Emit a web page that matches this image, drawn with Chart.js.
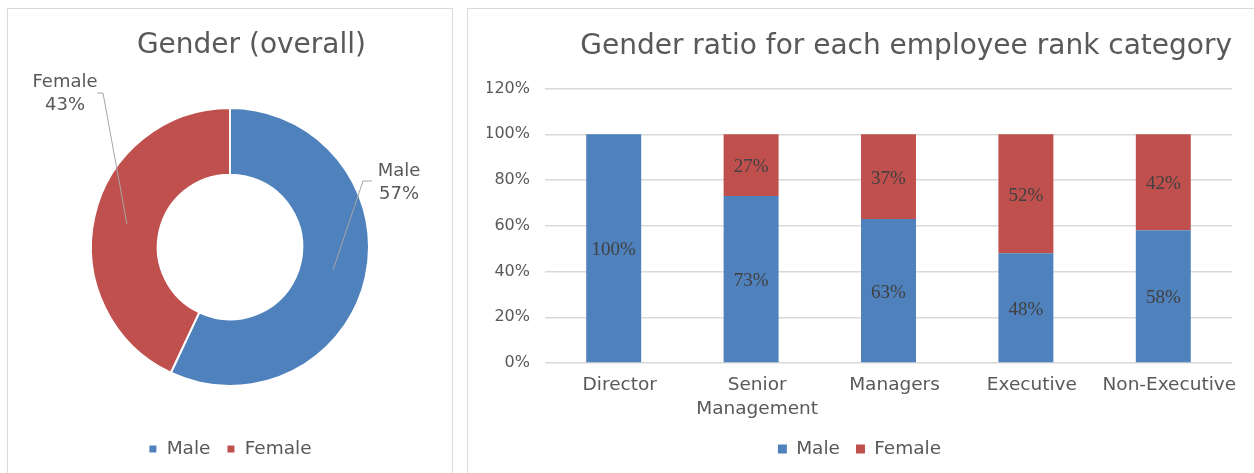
<!DOCTYPE html>
<html><head><meta charset="utf-8">
<script src="https://cdn.jsdelivr.net/npm/chart.js@4"></script>
<style>
html,body{margin:0;padding:0;background:#fff;width:1254px;height:473px;overflow:hidden;position:relative}
.panel{position:absolute;border:1.5px solid #d9d9d9;box-sizing:border-box;background:#fff}
#p1{left:7px;top:8px;width:446px;height:490px}
#p2{left:467px;top:8px;width:820px;height:490px}
canvas{position:absolute}
#c1{left:8px;top:9px}
#c2{left:469px;top:9px}
</style></head><body>
<div class="panel" id="p1"></div><div class="panel" id="p2"></div>
<canvas id="c1" width="444" height="464"></canvas>
<canvas id="c2" width="785" height="464"></canvas>
<script>
// ---- data ----
const seriesNames = ['Male', 'Female'];
const overallValues = [57, 43];
const categories = ['Director', 'Senior Management', 'Managers', 'Executive', 'Non-Executive'];
const maleValues = [100, 73, 63, 48, 58];
const femaleValues = [0, 27, 37, 52, 42];
const yTickValues = [0, 20, 40, 60, 80, 100, 120];
const pieTitle = 'Gender (overall)';
const barTitle = 'Gender ratio for each employee rank category';

// ---- style ----
const BLUE = '#4F81BD', RED = '#C0504D', TXT = '#595959', GRID = '#d9d9d9';
const UI = "'DejaVu Sans', sans-serif";
const SERIF = "'Liberation Serif', 'Times New Roman', serif";
const legendOpts = {
  position: 'bottom',
  labels: { boxWidth: 9, boxHeight: 9, padding: 16, color: TXT, font: { family: UI, size: 18.5 } }
};
// leader-line placement for the doughnut labels (relative to the doughnut centre)
const pieLabelPlacement = [
  { elbow: [133, -66], end: [142, -66], text: [169, -76], lh: 23 },
  { elbow: [-127, -154], end: [-133, -154], text: [-165, -165], lh: 23 }
];

const pieLabels = {
  id: 'pieLabels',
  afterDatasetsDraw(chart) {
    const ctx = chart.ctx;
    const meta = chart.getDatasetMeta(0);
    const data = chart.data.datasets[0].data;
    const total = data.reduce((a, b) => a + b, 0);
    meta.data.forEach((arc, i) => {
      const p = arc.getProps(['x', 'y', 'startAngle', 'endAngle', 'innerRadius', 'outerRadius'], true);
      const mid = (p.startAngle + p.endAngle) / 2;
      const r = (p.innerRadius + p.outerRadius) / 2;
      const ax = p.x + Math.cos(mid) * r, ay = p.y + Math.sin(mid) * r;
      const pl = pieLabelPlacement[i];
      ctx.save();
      ctx.strokeStyle = '#a6a6a6'; ctx.lineWidth = 1;
      ctx.beginPath();
      ctx.moveTo(ax, ay);
      ctx.lineTo(p.x + pl.elbow[0], p.y + pl.elbow[1]);
      ctx.lineTo(p.x + pl.end[0], p.y + pl.end[1]);
      ctx.stroke();
      ctx.fillStyle = TXT;
      ctx.font = '18px ' + UI;
      ctx.textAlign = 'center'; ctx.textBaseline = 'middle';
      const tx = p.x + pl.text[0], ty = p.y + pl.text[1];
      ctx.fillText(chart.data.labels[i], tx, ty);
      ctx.fillText(Math.round(data[i] / total * 100) + '%', tx, ty + pl.lh);
      ctx.restore();
    });
  }
};

const barLabels = {
  id: 'barLabels',
  afterDatasetsDraw(chart) {
    const ctx = chart.ctx;
    ctx.save();
    ctx.fillStyle = '#404040';
    ctx.font = '19px ' + SERIF;
    ctx.textAlign = 'center'; ctx.textBaseline = 'middle';
    chart.data.datasets.forEach((ds, di) => {
      const meta = chart.getDatasetMeta(di);
      meta.data.forEach((bar, i) => {
        const v = ds.data[i];
        if (!v) return;
        const p = bar.getProps(['x', 'y', 'base'], true);
        ctx.fillText(v + '%', p.x, (p.y + p.base) / 2 + 2);
      });
    });
    ctx.restore();
  }
};

new Chart(document.getElementById('c1'), {
  type: 'doughnut',
  data: {
    labels: seriesNames,
    datasets: [{ data: overallValues, backgroundColor: [BLUE, RED], borderColor: '#fff', borderWidth: 2, clip: false }]
  },
  options: {
    responsive: false, animation: false,
    radius: 139, cutout: '52%',
    layout: { padding: { left: 86, right: 86, top: 0, bottom: 4.75 } },
    plugins: {
      title: { display: true, align: 'end', text: pieTitle, color: TXT, font: { family: UI, size: 28, weight: 'normal' }, padding: { top: 20, bottom: 7.65 } },
      legend: legendOpts,
      tooltip: { enabled: false }
    }
  },
  plugins: [pieLabels]
});

new Chart(document.getElementById('c2'), {
  type: 'bar',
  data: {
    labels: categories.map(c => c === 'Senior Management' ? ['Senior', 'Management'] : c),
    datasets: [
      { label: seriesNames[0], data: maleValues, backgroundColor: BLUE },
      { label: seriesNames[1], data: femaleValues, backgroundColor: RED }
    ]
  },
  options: {
    responsive: false, animation: false,
    layout: { padding: { left: 18, right: 22, top: 0, bottom: 4.75 } },
    datasets: { bar: { categoryPercentage: 1, barPercentage: 0.4 } },
    scales: {
      x: {
        stacked: true,
        grid: { display: false, drawTicks: false },
        border: { display: false },
        ticks: { color: TXT, font: { family: UI, size: 18.5, lineHeight: 1.25 }, maxRotation: 0, autoSkip: false, padding: 11, labelOffset: 6 },
        afterFit(s) { s.height = 60.75; }
      },
      y: {
        stacked: true, min: 0, max: 120,
        afterBuildTicks(s) { s.ticks = yTickValues.map(v => ({ value: v })); },
        grid: { color: GRID, lineWidth: 1.5, drawTicks: false },
        border: { display: false },
        ticks: { color: TXT, font: { family: UI, size: 16 }, padding: 15, callback: v => v + '%' },
        afterFit(s) { s.width = 58; }
      }
    },
    plugins: {
      title: { display: true, align: 'end', text: barTitle, color: TXT, font: { family: UI, size: 28, weight: 'normal' }, padding: { top: 20.7, bottom: 25.2 } },
      legend: legendOpts,
      tooltip: { enabled: false }
    }
  },
  plugins: [barLabels]
});
</script>
</body></html>
